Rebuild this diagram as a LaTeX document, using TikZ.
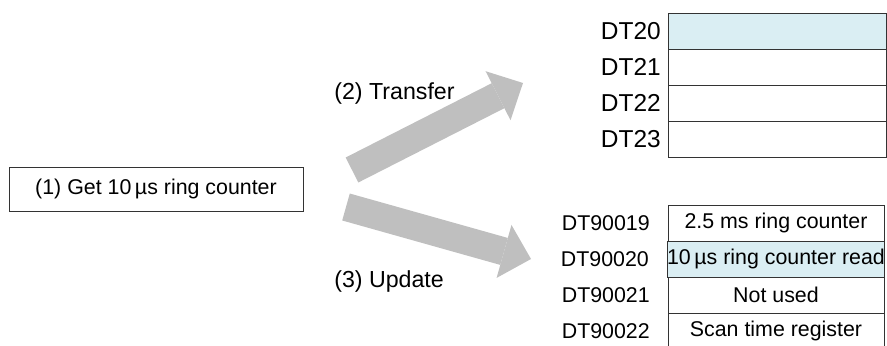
\documentclass[tikz,border=0pt]{standalone}
\usepackage{fontspec}
\setmainfont{Liberation Sans}
\usetikzlibrary{arrows.meta,positioning}
\definecolor{cellBlue}{RGB}{218,238,243}
\definecolor{arrowGray}{RGB}{191,191,191}
\tikzset{
  cell/.style={draw=black!80, line width=0.7pt, minimum width=5.45cm,
    minimum height=0.9cm, inner sep=0pt, outer sep=0pt},
  regname/.style={inner sep=0pt},
  bigname/.style={inner sep=0pt, font=\fontsize{17.4}{20}\selectfont},
  steplabel/.style={inner sep=0pt, anchor=west, font=\fontsize{16.5}{19}\selectfont},
  fatarrow/.style={draw=arrowGray, line width=0.7cm,
    -{Triangle[width=1.375cm,length=0.7cm,line width=0pt]}},
}

\begin{document}
\begin{tikzpicture}[font=\fontsize{15.2}{18}\selectfont]
  \useasboundingbox (0,0) rectangle (22.175,8.625);
  \node[draw=black!80, line width=0.7pt, minimum width=7.35cm,
    minimum height=1.1cm] (getbox) at (3.9,3.9) {(1) Get 10\,µs ring counter};

  \node[cell, fill=cellBlue, anchor=north west] (dt20) at (16.7,8.3) {};
  \node[cell, below=0pt of dt20] (dt21) {};
  \node[cell, below=0pt of dt21] (dt22) {};
  \node[cell, below=0pt of dt22] (dt23) {};
  \node[bigname, left=0.175cm of dt20] (l20) {DT20};
  \node[bigname, left=0.175cm of dt21] (l21) {DT21};
  \node[bigname, left=0.175cm of dt22] (l22) {DT22};
  \node[bigname, left=0.175cm of dt23] (l23) {DT23};

  \node[cell, minimum width=5.4cm, anchor=north west] (dt90019) at (16.7,3.5)
    {2.5 ms ring counter};
  \node[cell, minimum width=5.4cm, fill=cellBlue, below=0pt of dt90019] (dt90020)
    {10\,µs ring counter read};
  \node[cell, minimum width=5.4cm, below=0pt of dt90020] (dt90021) {Not used};
  \node[cell, minimum width=5.4cm, below=0pt of dt90021] (dt90022)
    {Scan time register};
  \node[regname, left=0.45cm of dt90019] (l90019) {DT90019};
  \node[regname, left=0.45cm of dt90020] (l90020) {DT90020};
  \node[regname, left=0.45cm of dt90021] (l90021) {DT90021};
  \node[regname, left=0.45cm of dt90022] (l90022) {DT90022};

  \coordinate (trfrom) at (8.8,4.375);
  \coordinate (trto) at (13.075,6.55);
  \coordinate (upfrom) at (8.65,3.45);
  \coordinate (upto) at (13.275,2.15);
  \draw[fatarrow] (trfrom) -- (trto);
  \draw[fatarrow] (upfrom) -- (upto);
  \node[steplabel] (trlabel) at (8.35,6.3) {(2) Transfer};
  \node[steplabel] (uplabel) at (8.35,1.6) {(3) Update};
\end{tikzpicture}
\end{document}
